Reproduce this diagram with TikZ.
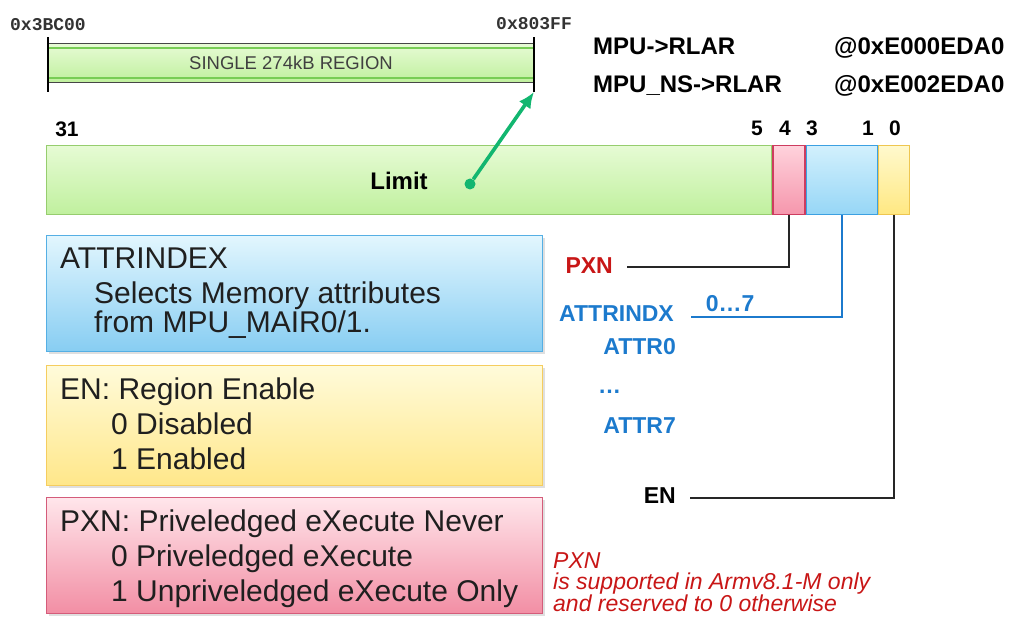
\documentclass[tikz,border=0pt]{standalone}
\usepackage{fontspec}
\setmainfont{Liberation Sans}
\newfontfamily\addrfont{Liberation Mono}
\usetikzlibrary{positioning,arrows.meta,shadows}

\definecolor{limitTop}{RGB}{230,251,212}
\definecolor{limitBot}{RGB}{192,240,158}
\definecolor{limitLine}{RGB}{150,205,110}
\definecolor{pxnTop}{RGB}{255,210,220}
\definecolor{pxnBot}{RGB}{245,150,172}
\definecolor{pxnLine}{RGB}{205,60,95}
\definecolor{attrTop}{RGB}{210,240,253}
\definecolor{attrBot}{RGB}{150,214,246}
\definecolor{attrLine}{RGB}{60,160,225}
\definecolor{enTop}{RGB}{255,249,205}
\definecolor{enBot}{RGB}{255,232,130}
\definecolor{enLine}{RGB}{238,198,80}
\definecolor{bboxTop}{RGB}{226,246,254}
\definecolor{bboxBot}{RGB}{135,205,242}
\definecolor{bboxLine}{RGB}{85,175,228}
\definecolor{yboxTop}{RGB}{255,251,218}
\definecolor{yboxBot}{RGB}{255,231,138}
\definecolor{yboxLine}{RGB}{245,205,95}
\definecolor{pboxTop}{RGB}{255,230,235}
\definecolor{pboxBot}{RGB}{242,142,164}
\definecolor{pboxLine}{RGB}{212,92,122}
\definecolor{noteRed}{RGB}{200,22,22}
\definecolor{lblBlue}{RGB}{28,122,205}
\definecolor{arrowGreen}{RGB}{18,182,112}
\definecolor{barGray}{RGB}{70,70,70}
\definecolor{stripeGreen}{RGB}{120,205,85}

\begin{document}
\begin{tikzpicture}[x=1pt, y=-1pt,
  field/.style={draw, line width=1.3pt, minimum height=69pt, inner sep=0pt,
                anchor=north west},
  descbox/.style={draw, line width=1.3pt, minimum width=496pt, inner sep=0pt,
                  anchor=north west,
                  drop shadow={opacity=0.25, shadow xshift=2pt, shadow yshift=-2pt}},
  boxtext/.style={font=\fontsize{30}{35}\selectfont, align=left,
                  anchor=north west, inner sep=0pt, text=black!88},
  bitnum/.style={font=\fontsize{21}{25}\selectfont\bfseries, anchor=base, inner sep=0pt},
  reglbl/.style={font=\fontsize{24}{28}\selectfont\bfseries, anchor=base west, inner sep=0pt},
  fieldlbl/.style={font=\fontsize{23}{27}\selectfont\bfseries, anchor=base east, inner sep=0pt},
  addr/.style={font=\addrfont\fontsize{18}{20}\selectfont\bfseries, anchor=base,
               inner sep=0pt, text=black!80},
  link/.style={line width=1.6pt},
  pointer/.style={-{Latex[length=16pt, width=14pt]}, line width=3.6pt, draw=arrowGreen}
]
\useasboundingbox (0,0) rectangle (1024,628);

% region of memory
\node[minimum width=486pt, minimum height=38pt, inner sep=0pt,
      top color=limitTop, bottom color=limitBot, text=black!75,
      font=\fontsize{18.5}{20}\selectfont] (region) at (291,63) {SINGLE 274kB REGION};
\draw[barGray, line width=1.3pt] (region.north west) -- (region.north east);
\draw[barGray, line width=1.3pt] (region.south west) -- (region.south east);
\draw[stripeGreen, line width=1.5pt] ([yshift=-4pt]region.north west) -- ([yshift=-4pt]region.north east);
\draw[stripeGreen, line width=1.5pt] ([yshift=4pt]region.south west) -- ([yshift=4pt]region.south east);
\coordinate (regstart) at (48,92);
\coordinate (regend) at (534,92);
\draw[black, line width=1.6pt] (regstart) -- ++(0,-55);
\draw[black, line width=1.6pt] (regend) -- ++(0,-55);
\node[addr] (lo) at (48,31) {0x3BC00};
\node[addr] (hi) at (534,30) {0x803FF};

% register names
\node[reglbl] (rlar) at (593,55) {MPU->RLAR};
\node[reglbl] (rlaraddr) at (834,55) {@0xE000EDA0};
\node[reglbl] (rlarns) at (593,93) {MPU\_NS->RLAR};
\node[reglbl] (rlarnsaddr) at (834,93) {@0xE002EDA0};

% register fields
\node[field, minimum width=725pt, top color=limitTop, bottom color=limitBot,
      draw=limitLine] (limit) at (46,145) {};
\node[field, minimum width=32pt, top color=pxnTop, bottom color=pxnBot,
      draw=pxnLine] (pxnf) at (limit.north east) {};
\node[field, minimum width=71pt, top color=attrTop, bottom color=attrBot,
      draw=attrLine] (attrf) at (pxnf.north east) {};
\node[field, minimum width=31pt, top color=enTop, bottom color=enBot,
      draw=enLine] (enf) at (attrf.north east) {};
\node[font=\fontsize{24}{28}\selectfont\bfseries, anchor=base, inner sep=0pt]
  (limitlbl) at (399,190) {Limit};

% bit numbers
\node[bitnum] (b31) at (67,137) {31};
\node[bitnum] (b5) at (757,136) {5};
\node[bitnum] (b4) at (785,136) {4};
\node[bitnum] (b3) at (812,136) {3};
\node[bitnum] (b1) at (868,136) {1};
\node[bitnum] (b0) at (895,136) {0};

% limit points to end of region
\node[circle, fill=arrowGreen, inner sep=0pt, minimum size=11pt] (dot) at (470,184) {};
\draw[pointer] (dot) -- (regend);

% description boxes
\node[descbox, minimum height=116pt, top color=bboxTop, bottom color=bboxBot,
      draw=bboxLine] (attrbox) at (46,235) {};
\node[descbox, minimum height=120pt, top color=yboxTop, bottom color=yboxBot,
      draw=yboxLine] (enbox) at (46,365) {};
\node[descbox, minimum height=116pt, top color=pboxTop, bottom color=pboxBot,
      draw=pboxLine] (pxnbox) at (46,497) {};
\node[boxtext] (attrtxt) at (60,248) {ATTRINDEX\\
  \hspace*{34pt}Selects Memory attributes\\[-6pt]
  \hspace*{34pt}from MPU\_MAIR0/1.};
\node[boxtext] (entxt) at (60,378) {EN: Region Enable\\
  \hspace*{51pt}0 Disabled\\
  \hspace*{51pt}1 Enabled};
\node[boxtext] (pxntxt) at (60,510) {PXN: Priveledged eXecute Never\\
  \hspace*{51pt}0 Priveledged eXecute\\
  \hspace*{51pt}1 Unpriveledged eXecute Only};

% field labels
\node[fieldlbl, text=noteRed] (pxnlbl) at (613,273) {PXN};
\node[fieldlbl, text=lblBlue] (idxlbl) at (674,321) {ATTRINDX};
\node[fieldlbl, text=lblBlue] (attr0) at (676,354) {ATTR0};
\node[fieldlbl, text=lblBlue, anchor=base west] (attrdots) at (598,393) {\dots};
\node[fieldlbl, text=lblBlue] (attr7) at (676,433) {ATTR7};
\node[fieldlbl] (enlbl) at (676,503) {EN};

\draw[link, black!85] ([xshift=14pt, yshift=6pt]pxnlbl.base east) -| (pxnf.south);
\draw[link, lblBlue] ([xshift=17pt, yshift=4pt]idxlbl.base east) -|
  node[pos=0.13, above=1pt, font=\fontsize{23}{27}\selectfont\bfseries] (range) {0\dots7}
  (attrf.south);
\draw[link, black!85] ([xshift=14pt, yshift=5pt]enlbl.base east) -| (enf.south);

% note
\node[font=\fontsize{23}{21.5}\selectfont\itshape, text=noteRed, align=left,
      anchor=north west, inner sep=0pt] (note) at (553,552)
  {PXN\\is supported in Armv8.1-M only\\and reserved to 0 otherwise};
\end{tikzpicture}
\end{document}
